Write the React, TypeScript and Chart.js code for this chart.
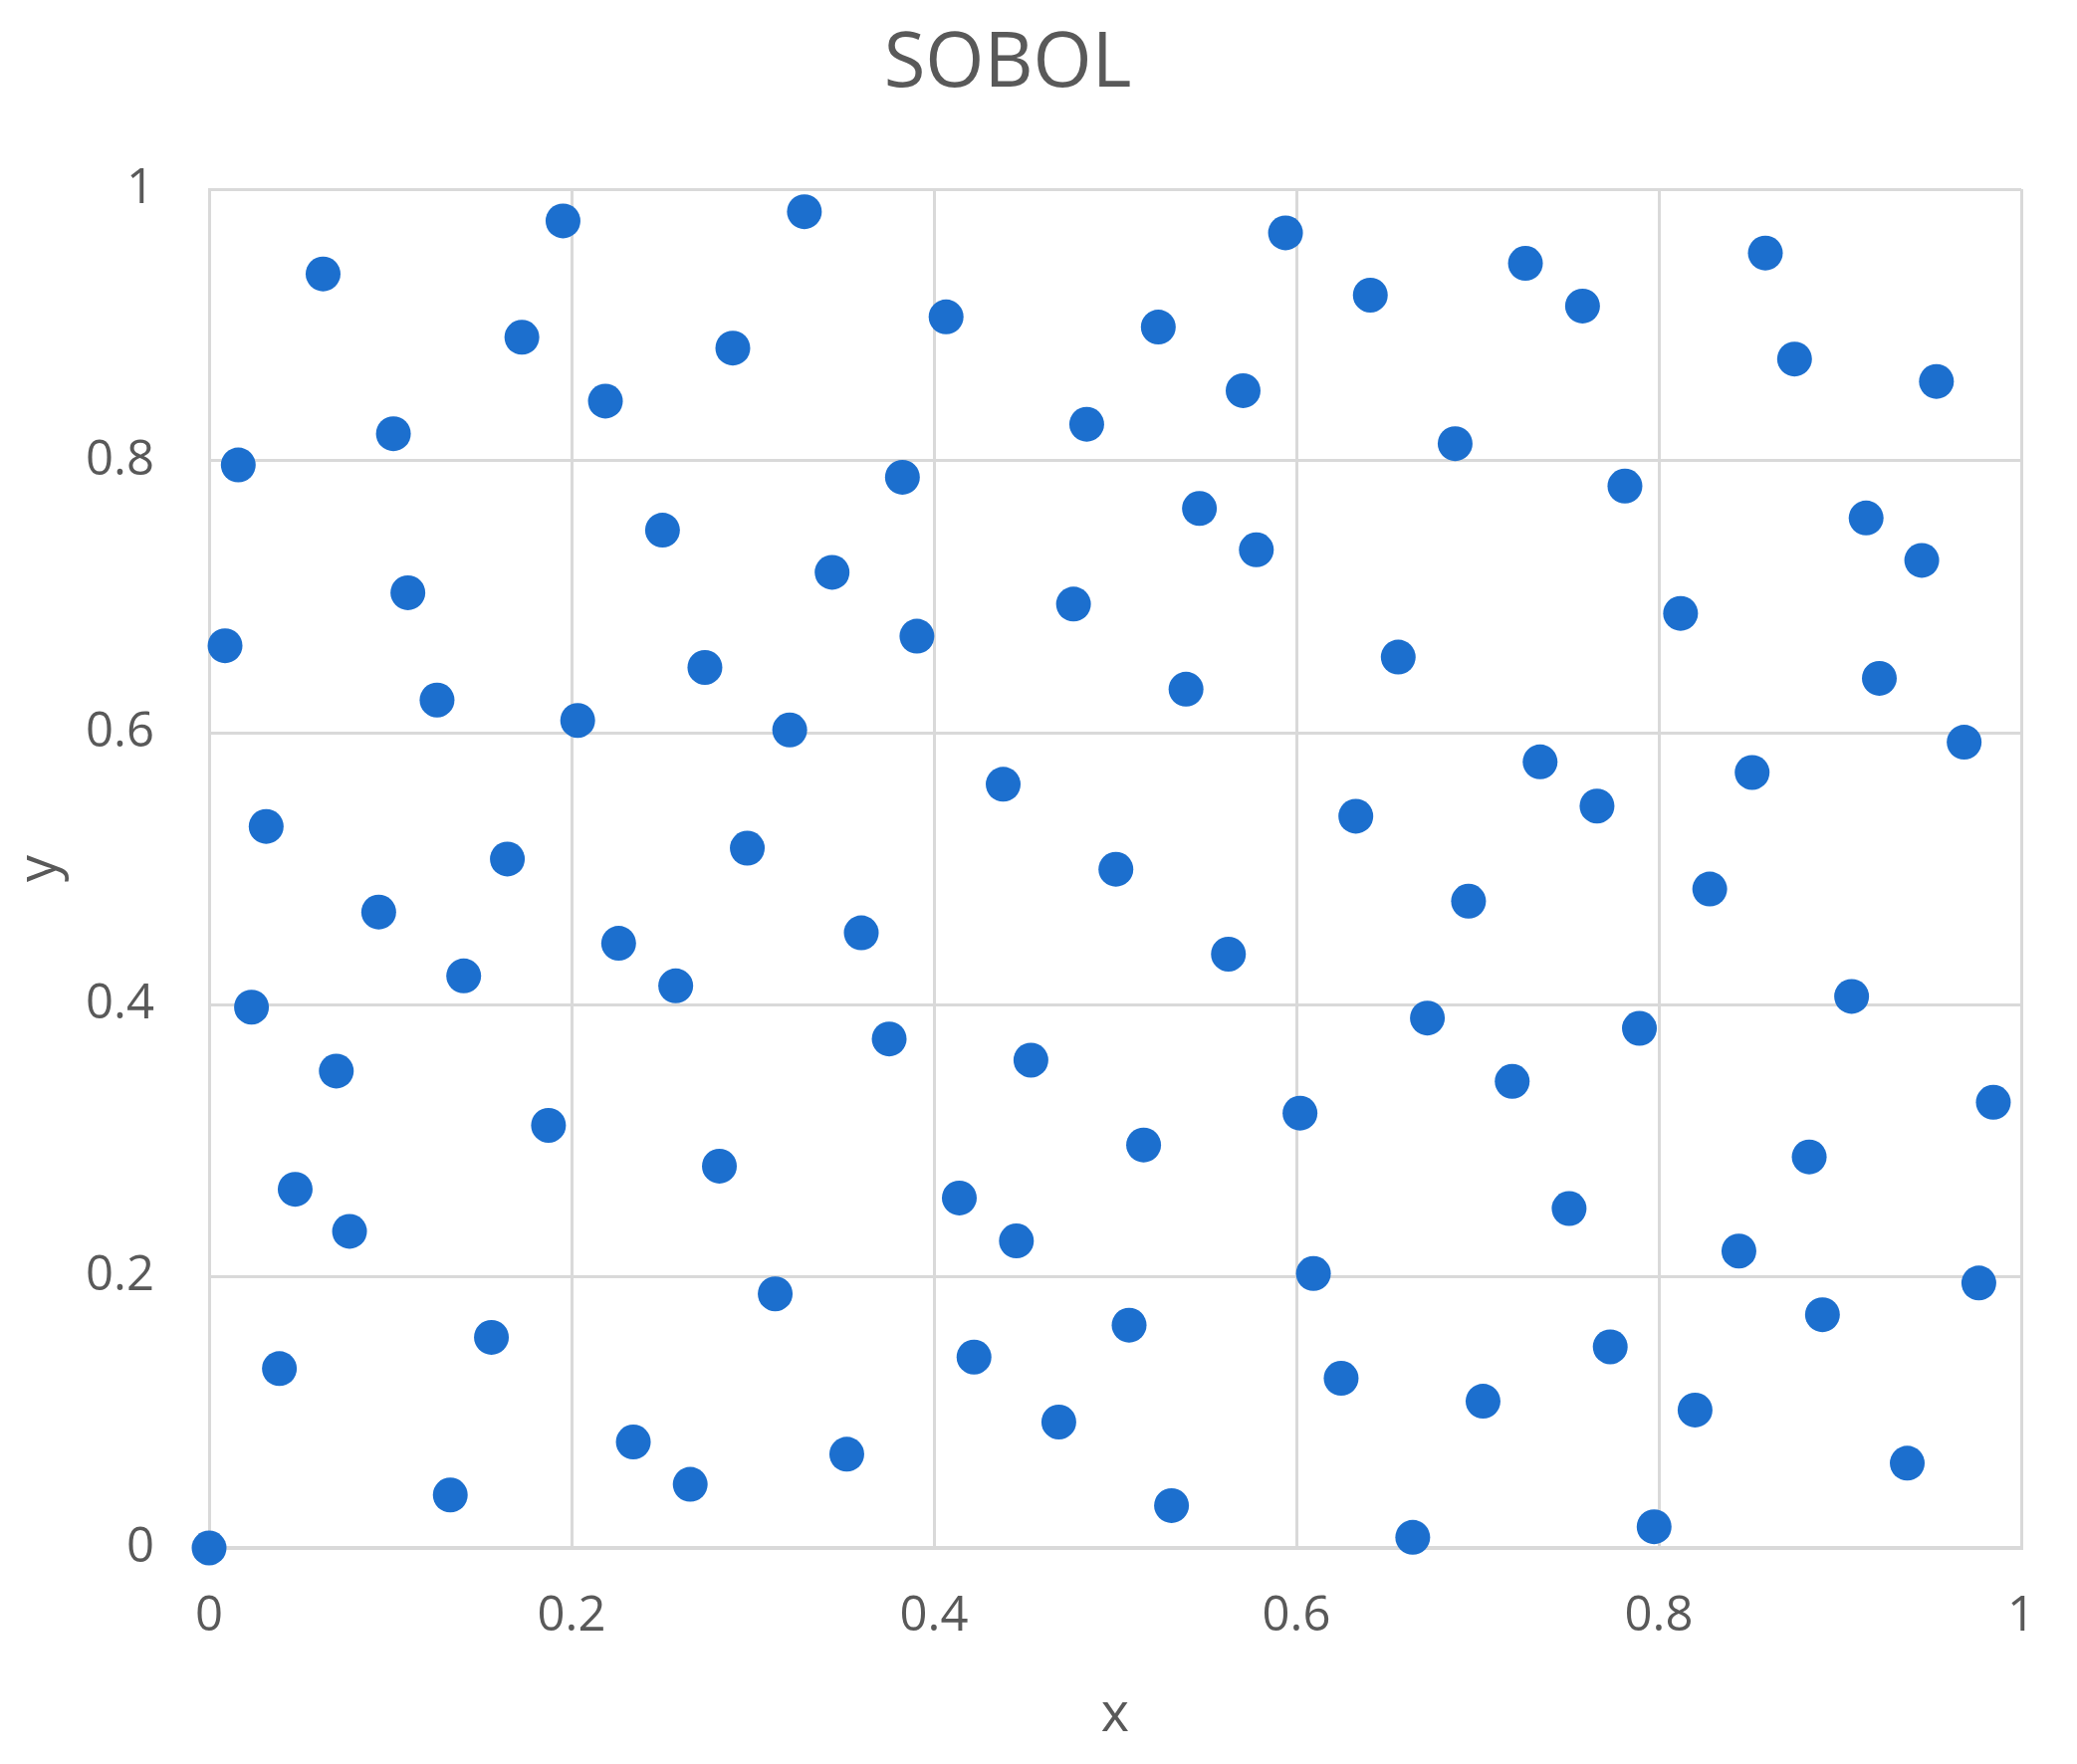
import React, { useEffect, useRef } from "react";
import { Chart, registerables } from "chart.js";

Chart.register(...registerables);

const chartTitle = "SOBOL";
const xAxisLabel = "x";
const yAxisLabel = "y";
const tickValues = [0, 0.2, 0.4, 0.6, 0.8, 1];

const xValues = [
  0, 0.0629, 0.0161, 0.0088, 0.0315, 0.0234, 0.0702, 0.0475, 0.0775, 0.0388,
  0.1017, 0.1097, 0.1258, 0.0936, 0.1405, 0.1646, 0.1726, 0.1953, 0.1558, 0.1331,
  0.1873, 0.2187, 0.2034, 0.226, 0.2502, 0.2575, 0.2341, 0.2655, 0.2736, 0.2816,
  0.289, 0.297, 0.3204, 0.3124, 0.3285, 0.3438, 0.3519, 0.3599, 0.3753, 0.3826,
  0.3906, 0.4067, 0.414, 0.4221, 0.4382, 0.4455, 0.4535, 0.4689, 0.477, 0.4843,
  0.5004, 0.5077, 0.5157, 0.5238, 0.5311, 0.5391, 0.5465, 0.5625, 0.5706, 0.5779,
  0.594, 0.602, 0.6094, 0.6247, 0.6328, 0.6408, 0.6562, 0.6642, 0.6723, 0.6876,
  0.695, 0.703, 0.7191, 0.7264, 0.7345, 0.7505, 0.7579, 0.7659, 0.7732, 0.7813,
  0.7893, 0.7974, 0.812, 0.82, 0.8281, 0.8442, 0.8515, 0.8588, 0.8749, 0.883,
  0.8903, 0.9064, 0.9144, 0.9217, 0.9371, 0.9451, 0.9532, 0.9685, 0.9766, 0.9846,
];

const yValues = [
  0, 0.9376, 0.797, 0.664, 0.531, 0.398, 0.351, 0.264, 0.233, 0.132,
  0.82, 0.703, 0.624, 0.468, 0.421, 0.507, 0.891, 0.9766, 0.155, 0.039,
  0.311, 0.844, 0.609, 0.445, 0.749, 0.4137, 0.078, 0.0468, 0.648, 0.281,
  0.883, 0.515, 0.602, 0.187, 0.9834, 0.718, 0.069, 0.4527, 0.3746, 0.788,
  0.671, 0.906, 0.2576, 0.1405, 0.562, 0.226, 0.359, 0.0927, 0.6946, 0.827,
  0.4995, 0.164, 0.2966, 0.8985, 0.0312, 0.632, 0.765, 0.437, 0.8517, 0.7346,
  0.9678, 0.32, 0.202, 0.1249, 0.5385, 0.922, 0.6556, 0.0078, 0.39, 0.8127,
  0.476, 0.108, 0.3434, 0.9454, 0.5785, 0.2498, 0.914, 0.546, 0.148, 0.7815,
  0.3824, 0.0156, 0.6878, 0.1015, 0.4849, 0.2185, 0.5707, 0.953, 0.875, 0.2878,
  0.1717, 0.4059, 0.758, 0.64, 0.0624, 0.7268, 0.8585, 0.593, 0.195, 0.328,
];

const FONT = '"Open Sans", "Noto Sans", sans-serif';
const TEXT = "#595959";
const GRID = "#d9d9d9";
const DOT = "#1c6fce";

export default function App() {
  const ref = useRef<HTMLCanvasElement | null>(null);

  useEffect(() => {
    if (!ref.current) return;
    const titlePlugin = {
      id: "sobolTitle",
      afterDraw(chart: any) {
        const ctx = chart.ctx;
        ctx.save();
        ctx.font = `76px ${FONT}`;
        ctx.fillStyle = TEXT;
        ctx.textAlign = "center";
        ctx.textBaseline = "alphabetic";
        ctx.fillText(chartTitle, 1012, 87);
        ctx.restore();
      },
    };
    const fmt = (v: any) => String(Number(v));
    const chart = new Chart(ref.current, {
      type: "scatter",
      data: {
        datasets: [
          {
            label: chartTitle,
            data: xValues.map((x, i) => ({ x, y: yValues[i] })),
            backgroundColor: DOT,
            borderWidth: 0,
            pointRadius: 17.5,
            pointHoverRadius: 17.5,
            clip: false as any,
          },
        ],
      },
      options: {
        animation: false,
        responsive: false,
        devicePixelRatio: 1,
        layout: { padding: { top: 190, right: 56, left: 0, bottom: 0 } },
        plugins: {
          legend: { display: false },
          title: { display: false },
          tooltip: { enabled: false },
        },
        scales: {
          x: {
            type: "linear",
            min: 0,
            max: 1,
            afterBuildTicks: (axis: any) => {
              axis.ticks = tickValues.map((v) => ({ value: v }));
            },
            afterFit: (axis: any) => {
              axis.height = 217;
            },
            ticks: {
              color: TEXT,
              font: { family: FONT, size: 49 },
              padding: 40,
              maxRotation: 0,
              callback: fmt,
            },
            grid: { color: GRID, lineWidth: 3, drawTicks: false },
            border: { color: GRID, width: 4 },
            title: {
              display: true,
              text: xAxisLabel,
              color: TEXT,
              font: { family: FONT, size: 54 },
              padding: { top: 0, bottom: 16 },
            },
          },
          y: {
            type: "linear",
            min: 0,
            max: 1,
            afterBuildTicks: (axis: any) => {
              axis.ticks = tickValues.map((v) => ({ value: v }));
            },
            afterFit: (axis: any) => {
              axis.width = 210;
            },
            ticks: {
              color: TEXT,
              font: { family: FONT, size: 49 },
              padding: 55,
              callback: fmt,
            },
            grid: { color: GRID, lineWidth: 3, drawTicks: false },
            border: { color: GRID, width: 3 },
            title: {
              display: true,
              text: yAxisLabel,
              color: TEXT,
              font: { family: FONT, size: 54 },
              padding: { top: 8, bottom: 0 },
            },
          },
        },
      },
      plugins: [titlePlugin],
    });
    return () => chart.destroy();
  }, []);

  return (
    <div style={{ position: "absolute", left: 0, top: 0, width: 2086, height: 1772, background: "#fff" }}>
      <canvas ref={ref} width={2086} height={1772} style={{ width: 2086, height: 1772 }} />
    </div>
  );
}
